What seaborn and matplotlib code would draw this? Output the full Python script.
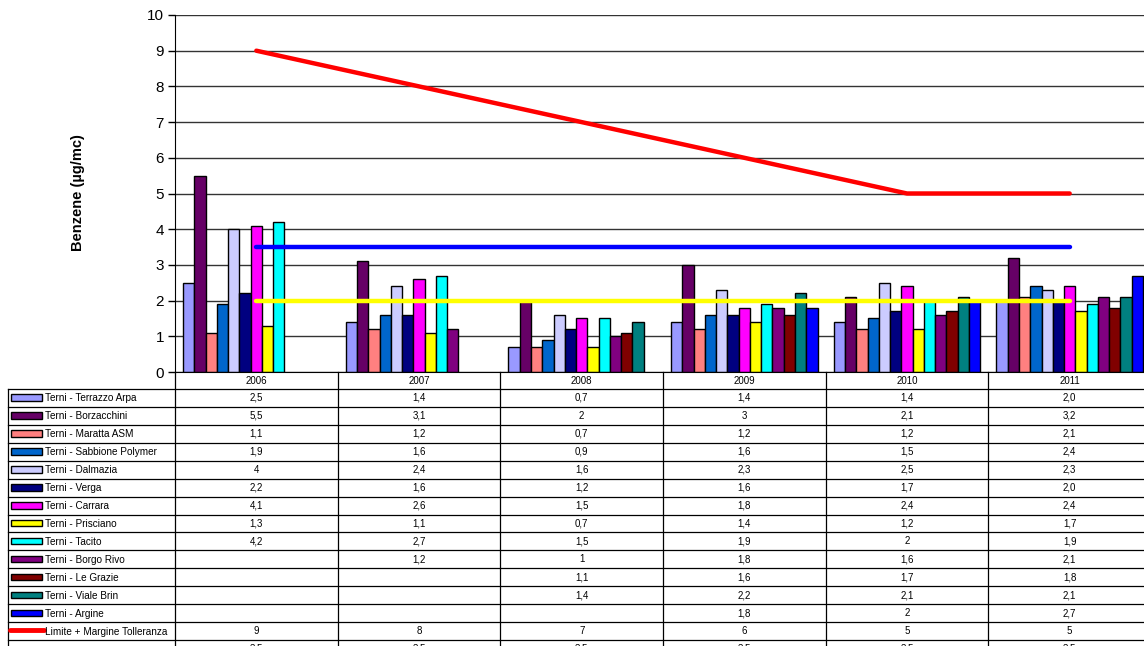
import numpy as np
import pandas as pd
import matplotlib
matplotlib.use("Agg")
import matplotlib.pyplot as plt
from matplotlib.patches import Rectangle
import seaborn as sns

# Data (Benzene, annual means, µg/mc)
years = ['2006', '2007', '2008', '2009', '2010', '2011']
stations = ['Terni - Terrazzo Arpa', 'Terni - Borzacchini', 'Terni - Maratta ASM',
            'Terni - Sabbione Polymer', 'Terni - Dalmazia', 'Terni - Verga',
            'Terni - Carrara', 'Terni - Prisciano', 'Terni - Tacito',
            'Terni - Borgo Rivo', 'Terni - Le Grazie', 'Terni - Viale Brin',
            'Terni - Argine']
nan = np.nan
terrazzo_arpa = [2.5, 1.4, 0.7, 1.4, 1.4, 2.0]
borzacchini = [5.5, 3.1, 2, 3, 2.1, 3.2]
maratta_asm = [1.1, 1.2, 0.7, 1.2, 1.2, 2.1]
sabbione_polymer = [1.9, 1.6, 0.9, 1.6, 1.5, 2.4]
dalmazia = [4, 2.4, 1.6, 2.3, 2.5, 2.3]
verga = [2.2, 1.6, 1.2, 1.6, 1.7, 2.0]
carrara = [4.1, 2.6, 1.5, 1.8, 2.4, 2.4]
prisciano = [1.3, 1.1, 0.7, 1.4, 1.2, 1.7]
tacito = [4.2, 2.7, 1.5, 1.9, 2, 1.9]
borgo_rivo = [nan, 1.2, 1, 1.8, 1.6, 2.1]
le_grazie = [nan, nan, 1.1, 1.6, 1.7, 1.8]
viale_brin = [nan, nan, 1.4, 2.2, 2.1, 2.1]
argine = [nan, nan, nan, 1.8, 2, 2.7]
station_values = [terrazzo_arpa, borzacchini, maratta_asm, sabbione_polymer, dalmazia,
                  verga, carrara, prisciano, tacito, borgo_rivo, le_grazie,
                  viale_brin, argine]

limite_tolleranza = [9, 8, 7, 6, 5, 5]
soglia_blu = [3.5, 3.5, 3.5, 3.5, 3.5, 3.5]
soglia_gialla = [2, 2, 2, 2, 2, 2]

colors = ['#9999FF', '#660066', '#FF8080', '#0066CC', '#CCCCFF', '#000080',
          '#FF00FF', '#FFFF00', '#00FFFF', '#800080', '#800000', '#008080',
          '#0000FF']

# long-form table for seaborn
rows = []
for name, vals in zip(stations, station_values):
    for y, v in zip(years, vals):
        rows.append({'anno': y, 'stazione': name, 'valore': v})
df = pd.DataFrame(rows).dropna()

plt.rcParams['font.family'] = ['Liberation Sans', 'DejaVu Sans']

W, H = 1144, 646
fig = plt.figure(figsize=(W / 100, H / 100), dpi=100)

# plot area geometry (pixels)
ax_left, ax_top, ax_bottom = 175, 15, 372
cat_w = 162.67
ax_w = cat_w * len(years)
ax = fig.add_axes([ax_left / W, (H - ax_bottom) / H, ax_w / W, (ax_bottom - ax_top) / H])

sns.barplot(data=df, x='anno', y='valore', hue='stazione', order=years,
            hue_order=stations, palette=colors, saturation=1, width=0.9,
            edgecolor='black', linewidth=1, errorbar=None, legend=False, ax=ax)

xpos = np.arange(len(years))
ax.plot(xpos, soglia_gialla, color='#FFFF00', lw=3.2, solid_capstyle='round', zorder=4)
ax.plot(xpos, soglia_blu, color='#0000FF', lw=3.2, solid_capstyle='round', zorder=4)
ax.plot(xpos, limite_tolleranza, color='#FF0000', lw=3.2, solid_capstyle='round', zorder=4)

ax.set_xlim(-0.5, len(years) - 0.5)
ax.set_ylim(0, 10)
ax.set_yticks(range(0, 11))
ax.tick_params(axis='y', labelsize=11, length=5, width=1, color='black', pad=3)
ax.set_xticks([])
ax.set_xlabel('')
ax.set_ylabel('')
ax.yaxis.grid(True, color='#333333', lw=1)
ax.set_axisbelow(True)
for s in ['top', 'right']:
    ax.spines[s].set_visible(False)
ax.spines['left'].set_color('black')
ax.spines['bottom'].set_color('black')
ax.patch.set_alpha(0)

fig.text(78 / W, 1 - 193 / H, 'Benzene (µg/mc)', rotation=90, fontsize=10.5,
         fontweight='bold', ha='center', va='center')

# data table under the chart, drawn in pixel coordinates
tab = fig.add_axes([0, 0, 1, 1])
tab.set_xlim(0, W)
tab.set_ylim(H, 0)
tab.axis('off')

row_h = 17.93
header_bottom = 389
col_edges = [ax_left + i * cat_w for i in range(len(years) + 1)]
n_rows = len(stations) + 2
lc = 'black'

# header
for i, y in enumerate(years):
    tab.text((col_edges[i] + col_edges[i + 1]) / 2, (ax_bottom + header_bottom) / 2 + 0.5, y,
             ha='center', va='center', fontsize=7)
for xe in col_edges:
    tab.plot([xe, xe], [ax_bottom, H + 5], color=lc, lw=0.9)
tab.plot([8, 8], [header_bottom, H + 5], color=lc, lw=0.9)
for r in range(n_rows + 1):
    yy = header_bottom + r * row_h
    tab.plot([8, W + 10], [yy, yy], color=lc, lw=0.9)


def fmt(v, year, is_station):
    if v is None or (isinstance(v, float) and np.isnan(v)):
        return ''
    s = f'{v:.1f}' if (is_station and year == '2011') else f'{v:g}'
    return s.replace('.', ',')


table_rows = [(n, vals, c, True) for n, vals, c in zip(stations, station_values, colors)]
table_rows.append(('Limite + Margine Tolleranza', limite_tolleranza, '#FF0000', False))
table_rows.append(('', soglia_blu, '#0000FF', False))

for r, (name, vals, c, is_station) in enumerate(table_rows):
    yc = header_bottom + (r + 0.5) * row_h
    if is_station:
        tab.add_patch(Rectangle((11, yc - 3.5), 31, 6.5, facecolor=c, edgecolor='black', lw=1))
    else:
        tab.plot([10, 44], [yc - 1.5 + (0 if name else 4), yc - 1.5 + (0 if name else 4)],
                 color=c, lw=3.5, solid_capstyle='round')
    tab.text(45, yc + 0.5, name, ha='left', va='center', fontsize=7.2)
    for i, y in enumerate(years):
        tab.text((col_edges[i] + col_edges[i + 1]) / 2, yc, fmt(vals[i], y, is_station),
                 ha='center', va='center', fontsize=7)

fig.savefig('out.png', dpi=100)
